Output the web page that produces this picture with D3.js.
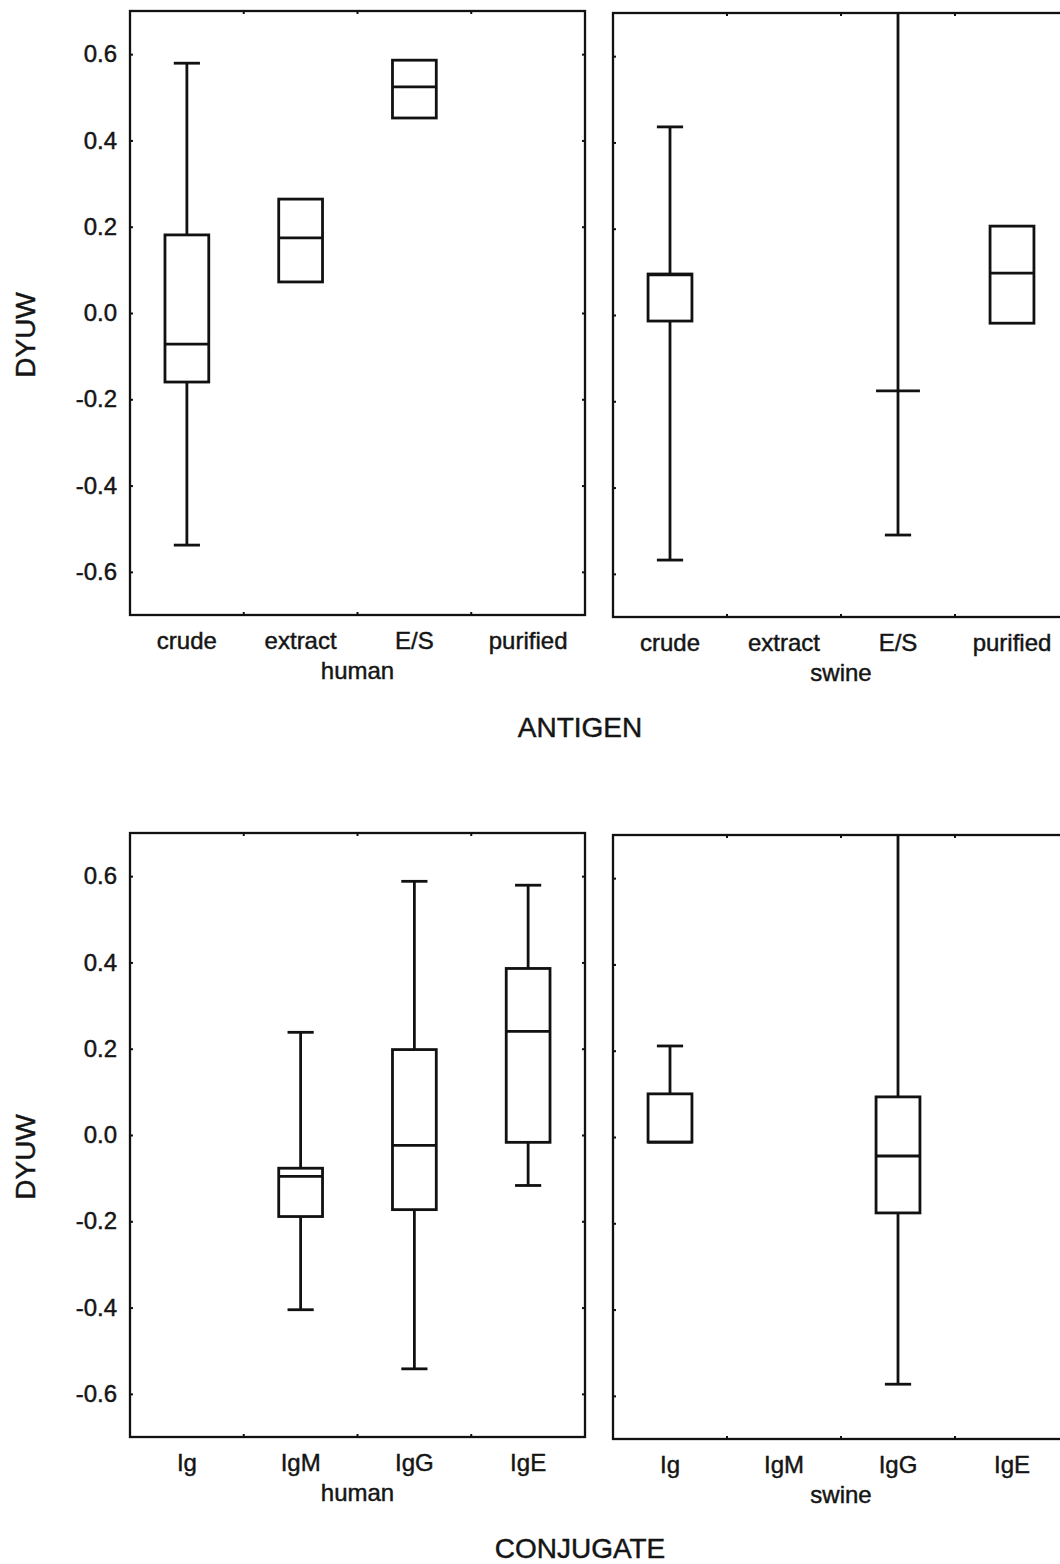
<!DOCTYPE html>
<html>
<head>
<meta charset="utf-8">
<script src="https://cdn.jsdelivr.net/npm/d3@7/dist/d3.min.js"></script>
<style>
  body { margin: 0; background: #fff; }
  text { font-family: "Liberation Sans", Arial, sans-serif; fill: #151515; stroke: #151515; stroke-width: 0.45px; }
</style>
</head>
<body>
<div id="chart"></div>
<script>
  // categories
  var antigenCats = ['crude', 'extract', 'E/S', 'purified'];
  var conjugateCats = ['Ig', 'IgM', 'IgG', 'IgE'];
  var groups = ['human', 'swine'];
  var yTicks = [-0.6, -0.4, -0.2, 0.0, 0.2, 0.4, 0.6];

  // box stats per category: [whisker low, q1, median, q3, whisker high], null = no box
  var antigenHuman = [
    [-0.538, -0.160, -0.072, 0.181, 0.579],
    [null, 0.072, 0.174, 0.264, null],
    [null, 0.452, 0.524, 0.586, null],
    null
  ];
  var antigenSwine = [
    [-0.568, -0.014, 0.093, 0.095, 0.436],
    null,
    [-0.510, -0.176, -0.176, -0.176, 0.80],
    [null, -0.019, 0.097, 0.206, null]
  ];
  var conjugateHuman = [
    null,
    [-0.405, -0.189, -0.096, -0.077, 0.238],
    [-0.542, -0.173, -0.024, 0.198, 0.588],
    [-0.117, -0.017, 0.240, 0.386, 0.579]
  ];
  var conjugateSwine = [
    [null, -0.012, -0.012, 0.100, 0.211],
    null,
    [-0.573, -0.176, -0.044, 0.093, 0.80],
    null
  ];

  var width = 1060, height = 1564;
  var svg = d3.select('#chart').append('svg')
    .attr('width', width)
    .attr('height', height);

  var rows = [
    { cats: antigenCats, data: [antigenHuman, antigenSwine], title: 'ANTIGEN', top: 11, bottom: 615, titleY: 737 },
    { cats: conjugateCats, data: [conjugateHuman, conjugateSwine], title: 'CONJUGATE', top: 833, bottom: 1437, titleY: 1558 }
  ];
  var cols = [
    { left: 130, right: 585, dy: 0 },
    { left: 613, right: 1069, dy: 2 }
  ];

  rows.forEach(function(row, ri) {
    cols.forEach(function(col, ci) {
      drawPanel(row, col, ri, ci);
    });

    svg.append('text')
      .attr('x', 580)
      .attr('y', row.titleY)
      .attr('text-anchor', 'middle')
      .style('font-size', '28px')
      .text(row.title);

    svg.append('text')
      .attr('transform', 'translate(35,' + ((row.top + row.bottom) / 2 + 22) + ') rotate(-90)')
      .attr('text-anchor', 'middle')
      .style('font-size', '28px')
      .text('DYUW');
  });

  function drawPanel(row, col, ri, ci) {
    var top = row.top + col.dy, bottom = row.bottom + col.dy;
    var x = d3.scaleBand().domain(row.cats).range([col.left, col.right]).padding(0);
    var y = d3.scaleLinear().domain([-0.7, 0.7]).range([bottom, top]);
    var data = row.data[ci];
    var clipId = 'clip' + ri + ci;

    svg.append('clipPath').attr('id', clipId)
      .append('rect')
      .attr('x', col.left).attr('y', top)
      .attr('width', col.right - col.left).attr('height', bottom - top);

    // y axis (left)
    var yAxis = d3.axisLeft(y)
      .tickValues(yTicks)
      .tickSizeInner(-3)
      .tickSizeOuter(0)
      .tickPadding(13)
      .tickFormat(function(d) { return ci === 0 ? d.toFixed(1) : ''; });
    var gy = svg.append('g')
      .attr('transform', 'translate(' + col.left + ',0)')
      .call(yAxis);
    gy.select('.domain').remove();
    gy.selectAll('line').attr('stroke', '#111').attr('stroke-width', 2);
    gy.selectAll('text').style('font-size', '24px').attr('fill', '#151515');

    // right side ticks
    var gyr = svg.append('g')
      .attr('transform', 'translate(' + col.right + ',0)')
      .call(d3.axisRight(y).tickValues(yTicks).tickSizeInner(-3).tickSizeOuter(0).tickFormat(''));
    gyr.select('.domain').remove();
    gyr.selectAll('line').attr('stroke', '#111').attr('stroke-width', 2);

    // x axis labels
    var gx = svg.append('g')
      .attr('transform', 'translate(0,' + bottom + ')')
      .call(d3.axisBottom(x).tickSize(0).tickPadding(0));
    gx.select('.domain').remove();
    gx.selectAll('text')
      .attr('dy', null)
      .attr('y', 34)
      .style('font-size', '24px')
      .attr('fill', '#151515');

    // boundary ticks on top and bottom
    var bounds = row.cats.slice(1).map(function(c) { return x(c); });
    svg.append('g').selectAll('line.tb')
      .data(bounds)
      .enter()
      .append('line')
      .attr('x1', function(d) { return d; })
      .attr('x2', function(d) { return d; })
      .attr('y1', bottom)
      .attr('y2', bottom - 3)
      .attr('stroke', '#111')
      .attr('stroke-width', 2);
    svg.append('g').selectAll('line.tt')
      .data(bounds)
      .enter()
      .append('line')
      .attr('x1', function(d) { return d; })
      .attr('x2', function(d) { return d; })
      .attr('y1', top)
      .attr('y2', top + 3)
      .attr('stroke', '#111')
      .attr('stroke-width', 2);

    // group label
    svg.append('text')
      .attr('x', (col.left + col.right) / 2)
      .attr('y', bottom + 64)
      .attr('text-anchor', 'middle')
      .style('font-size', '24px')
      .text(groups[ci]);

    // frame
    svg.append('rect')
      .attr('x', col.left)
      .attr('y', top)
      .attr('width', col.right - col.left)
      .attr('height', bottom - top)
      .attr('fill', 'none')
      .attr('stroke', '#111')
      .attr('stroke-width', 2.3);

    // boxes
    var boxW = x.bandwidth() * 0.385;
    var capW = x.bandwidth() * 0.23;
    var g = svg.append('g').attr('clip-path', 'url(#' + clipId + ')');

    data.forEach(function(d, i) {
      if (!d) return;
      var cx = x(row.cats[i]) + x.bandwidth() / 2;
      var b = g.append('g')
        .attr('stroke', '#111')
        .attr('stroke-width', 2.8)
        .attr('fill', 'none');

      if (d[0] !== null) {
        b.append('line')
          .attr('x1', cx).attr('x2', cx)
          .attr('y1', y(d[0])).attr('y2', y(d[1]));
        b.append('line')
          .attr('x1', cx - capW / 2).attr('x2', cx + capW / 2)
          .attr('y1', y(d[0])).attr('y2', y(d[0]));
      }
      if (d[4] !== null) {
        b.append('line')
          .attr('x1', cx).attr('x2', cx)
          .attr('y1', y(d[4])).attr('y2', y(d[3]));
        b.append('line')
          .attr('x1', cx - capW / 2).attr('x2', cx + capW / 2)
          .attr('y1', y(d[4])).attr('y2', y(d[4]));
      }
      if (d[3] > d[1]) {
        b.append('rect')
          .attr('x', cx - boxW / 2)
          .attr('y', y(d[3]))
          .attr('width', boxW)
          .attr('height', y(d[1]) - y(d[3]))
          .attr('fill', '#fff');
      }
      b.append('line')
        .attr('x1', cx - boxW / 2).attr('x2', cx + boxW / 2)
        .attr('y1', y(d[2])).attr('y2', y(d[2]));
    });
  }
</script>
</body>
</html>
